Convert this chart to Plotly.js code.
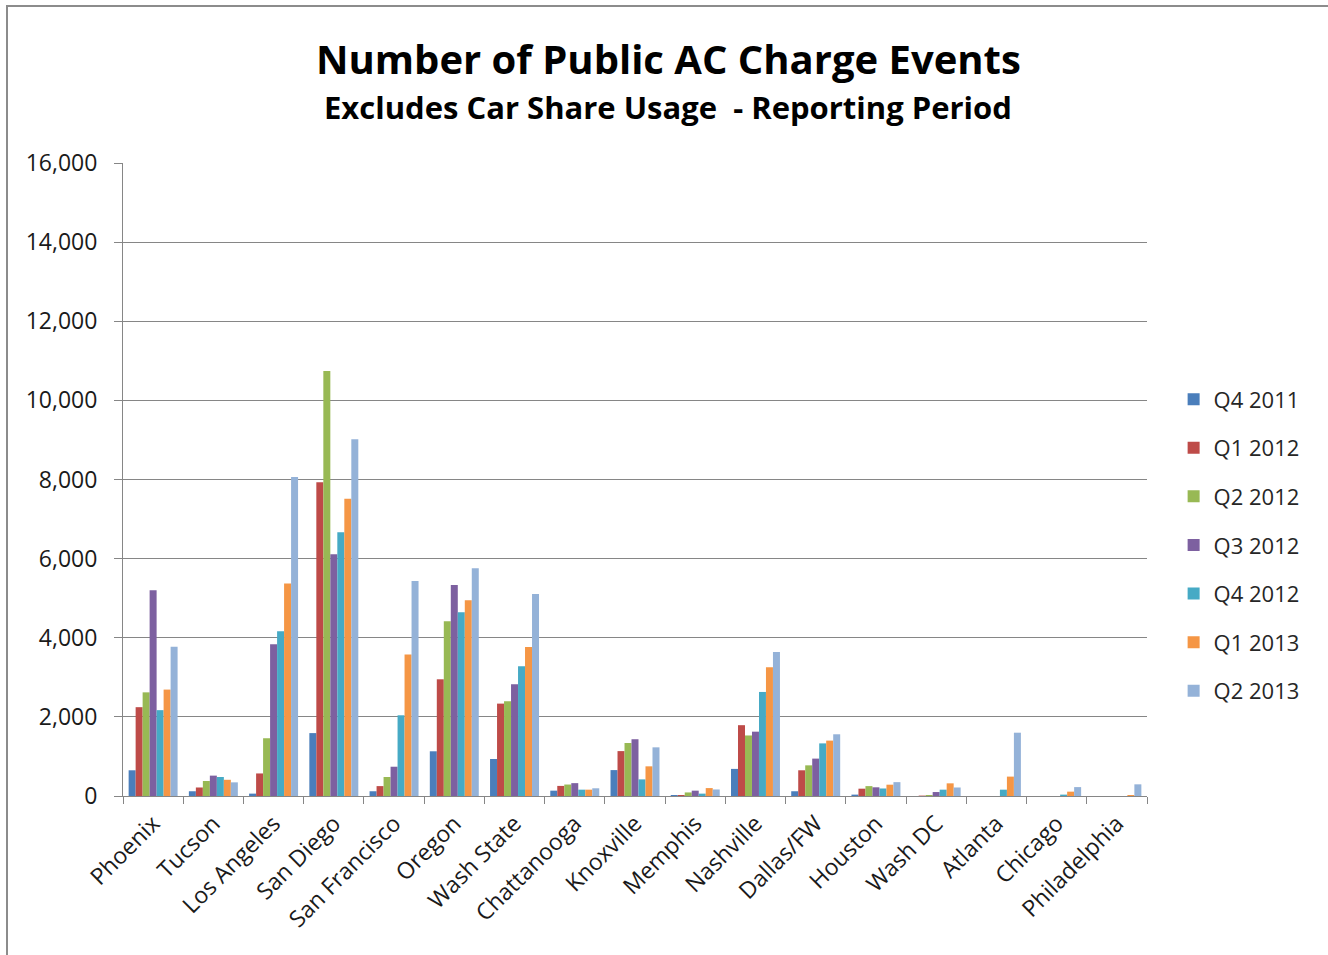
<!DOCTYPE html>
<html>
<head>
<meta charset="utf-8">
<script src="https://cdn.plot.ly/plotly-3.0.1.min.js"></script>
<style>
  html, body { margin: 0; padding: 0; background: #fff; }
  #wrap { position: relative; width: 1328px; height: 955px; overflow: hidden; }
  #chart { position: absolute; left: 0; top: 0; width: 1328px; height: 955px; }
  #frame { position: absolute; left: 6px; top: 5px; width: 1400px; height: 1000px;
           border-left: 2px solid #8c8c8c; border-top: 2px solid #8c8c8c; pointer-events: none; }
</style>
</head>
<body>
<div id="wrap">
  <div id="chart"></div>
  <div id="frame"></div>
</div>
<script>
const categories = ["Phoenix","Tucson","Los Angeles","San Diego","San Francisco","Oregon","Wash State",
  "Chattanooga","Knoxville","Memphis","Nashville","Dallas/FW","Houston","Wash DC","Atlanta","Chicago","Philadelphia"];

const seriesNames = ["Q4 2011","Q1 2012","Q2 2012","Q3 2012","Q4 2012","Q1 2013","Q2 2013"];
const seriesColors = ["#4a7ebb","#be4b48","#98b954","#7d60a0","#46aac5","#f59645","#94b2d8"];

const q4_2011 = [650, 120, 60, 1590, 120, 1130, 935, 135, 655, 25, 685, 120, 35, 0, 0, 0, 0];
const q1_2012 = [2245, 215, 570, 7930, 250, 2950, 2335, 255, 1135, 25, 1790, 650, 185, 10, 0, 0, 0];
const q2_2012 = [2620, 380, 1460, 10740, 480, 4415, 2395, 290, 1340, 90, 1530, 775, 250, 25, 0, 0, 0];
const q3_2012 = [5200, 515, 3835, 6110, 740, 5335, 2825, 325, 1435, 135, 1626, 945, 220, 100, 0, 0, 0];
const q4_2012 = [2170, 480, 4165, 6665, 2040, 4645, 3280, 160, 420, 60, 2630, 1330, 190, 160, 160, 35, 0];
const q1_2013 = [2690, 410, 5370, 7515, 3575, 4945, 3766, 160, 750, 200, 3253, 1400, 286, 320, 490, 110, 25];
const q2_2013 = [3775, 345, 8065, 9015, 5435, 5755, 5105, 195, 1230, 165, 3640, 1560, 350, 215, 1600, 225, 295];

const seriesValues = [q4_2011, q1_2012, q2_2012, q3_2012, q4_2012, q1_2013, q2_2013];

const yTickVals = [0, 2000, 4000, 6000, 8000, 10000, 12000, 14000, 16000];
const yTickText = ["0", "2,000", "4,000", "6,000", "8,000", "10,000", "12,000", "14,000", "16,000"];

const FONT = "Open Sans, Lato, sans-serif";

const traces = seriesNames.map((name, i) => ({
  type: "bar",
  name: name,
  legendgroup: "g" + i,
  x: categories,
  y: seriesValues[i],
  marker: { color: seriesColors[i], line: { width: 0 } },
  hoverinfo: "x+y+name"
}));

const layout = {
  width: 1328,
  height: 955,
  paper_bgcolor: "#ffffff",
  plot_bgcolor: "#ffffff",
  margin: { l: 123, r: 181, t: 163, b: 159, pad: 0 },
  barmode: "group",
  bargap: 0.187,
  bargroupgap: 0,
  showlegend: true,
  legend: {
    x: 1.026, xanchor: "left",
    y: 0.396, yanchor: "middle",
    font: { family: FONT, size: 22, color: "#262626" },
    traceorder: "grouped",
    tracegroupgap: 17,
    itemwidth: 30,
    bgcolor: "rgba(0,0,0,0)"
  },
  xaxis: {
    type: "category",
    tickangle: -45,
    tickfont: { family: FONT, size: 23, color: "#1a1a1a" },
    ticks: "outside",
    tickson: "boundaries",
    ticklen: 7,
    ticklabelstandoff: 4,
    tickcolor: "#868686",
    showline: true,
    linecolor: "#868686",
    linewidth: 1,
    showgrid: false,
    zeroline: false,
    automargin: false
  },
  yaxis: {
    range: [0, 16000],
    tickvals: yTickVals,
    ticktext: yTickText,
    tickfont: { family: FONT, size: 23, color: "#1a1a1a" },
    ticks: "outside",
    ticklen: 8,
    ticklabelstandoff: 12,
    tickcolor: "#868686",
    showline: true,
    linecolor: "#868686",
    linewidth: 1,
    showgrid: true,
    gridcolor: "#868686",
    gridwidth: 1,
    zeroline: false,
    automargin: false
  },
  annotations: [
    {
      text: "<b>Number of Public AC Charge Events</b>",
      xref: "paper", yref: "paper", x: 0.533, y: 1, xanchor: "center", yanchor: "middle",
      yshift: 105, showarrow: false,
      font: { family: FONT, size: 40, color: "#000000" }
    },
    {
      text: "<b>Excludes Car Share Usage  - Reporting Period</b>",
      xref: "paper", yref: "paper", x: 0.532, y: 1, xanchor: "center", yanchor: "middle",
      yshift: 56, showarrow: false,
      font: { family: FONT, size: 31, color: "#000000" }
    }
  ]
};

Plotly.newPlot("chart", traces, layout, { displayModeBar: false, staticPlot: true });
</script>
</body>
</html>
